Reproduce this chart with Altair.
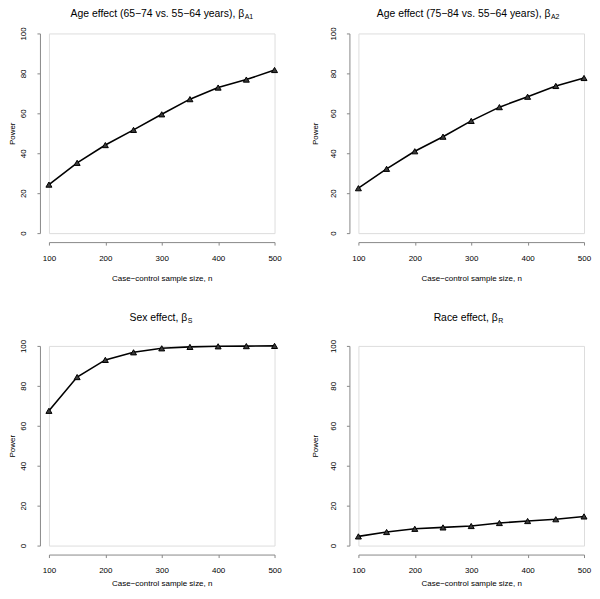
import altair as alt
import pandas as pd

# ---- data ----
sample_size = [100, 150, 200, 250, 300, 350, 400, 450, 500]
power_age_a1 = [24.3, 35.2, 44.1, 51.7, 59.5, 67.1, 72.9, 76.9, 81.7]
power_age_a2 = [22.5, 32.2, 41.0, 48.3, 56.2, 63.1, 68.3, 73.7, 77.7]
power_sex = [67.5, 84.4, 93.0, 96.8, 98.8, 99.5, 99.8, 99.9, 100.0]
power_race = [4.6, 6.8, 8.4, 9.1, 9.8, 11.3, 12.3, 13.2, 14.6]

title_main = [
    "Age effect (65\u221274 vs. 55\u221264 years), \u03b2",
    "Age effect (75\u221284 vs. 55\u221264 years), \u03b2",
    "Sex effect, \u03b2",
    "Race effect, \u03b2",
]
title_sub = ["A1", "A2", "S", "R"]
x_ticks = [100, 200, 300, 400, 500]
y_ticks = [0, 20, 40, 60, 80, 100]
x_title = "Case\u2212control sample size, n"
y_title = "Power"

# ---- style ----
FONT = "Liberation Sans"
W, H = 226, 200
# where the main title ends / subscript starts (relative to plot left)
split_x = [195.6, 192.4, 138.5, 139.5]
title_y = [-16, -16, -25, -25]
ytitle_x = [-27, -34, -27, -34]
xtitle_y = [36, 36, 29, 29]


def panel(i, values):
    df = pd.DataFrame({"n": sample_size, "power": values})
    x = alt.X(
        "n:Q",
        scale=alt.Scale(domain=[100, 500], nice=False, zero=False),
        axis=alt.Axis(
            values=x_ticks, title=x_title, offset=9, tickSize=3,
            labelPadding=9, labelBaseline="top", labelFontSize=8,
            titleFontSize=8, titleFontWeight="normal", titleY=xtitle_y[i],
            titleBaseline="middle", grid=False, labelFlush=False,
            labelOverlap=False,
        ),
    )
    y = alt.Y(
        "power:Q",
        scale=alt.Scale(domain=[0, 100], nice=False),
        axis=alt.Axis(
            values=y_ticks, title=y_title, offset=9, tickSize=3,
            labelAngle=270, labelAlign="center", labelBaseline="middle",
            labelPadding=13, labelFontSize=8, titleFontSize=8,
            titleFontWeight="normal", titleAngle=270, titleX=ytitle_x[i],
            titleY=H / 2, titleAlign="center", titleBaseline="middle",
            grid=False, labelFlush=False, labelOverlap=False,
        ),
    )
    line = alt.Chart(df).mark_line(color="black", strokeWidth=1.6).encode(x=x, y=y)
    pts = alt.Chart(df).mark_point(
        shape="triangle-up", filled=True, fill="#3a3a3a", stroke="black",
        strokeWidth=1, size=36, opacity=1,
    ).encode(x=x, y=y)
    tdf = pd.DataFrame({"main": [title_main[i]], "sub": [title_sub[i]]})
    t_main = alt.Chart(tdf).mark_text(
        align="right", baseline="alphabetic", fontSize=10.4, font=FONT, color="black"
    ).encode(text="main:N", x=alt.value(split_x[i]), y=alt.value(title_y[i]))
    t_sub = alt.Chart(tdf).mark_text(
        align="left", baseline="alphabetic", fontSize=7, font=FONT, color="black"
    ).encode(text="sub:N", x=alt.value(split_x[i] + 0.5), y=alt.value(title_y[i] + 2))
    return alt.layer(line, pts, t_main, t_sub).properties(width=W, height=H)


values = [power_age_a1, power_age_a2, power_sex, power_race]
chart = alt.concat(
    *[panel(i, v) for i, v in enumerate(values)],
    columns=2, spacing={"row": 113, "column": 84}, bounds="flush",
).properties(padding=0).configure_view(stroke=None).configure_axis(
    labelFont=FONT, titleFont=FONT, labelColor="black", titleColor="black",
    domainColor="black", tickColor="black", domainWidth=1, tickWidth=1,
    labelOverlap=False,
).configure_axisY(
    labelAngle=270, labelPadding=13, labelOverlap=False,
).configure(background="white")

chart.save("out.html", embed_options={"renderer": "svg", "actions": False})
